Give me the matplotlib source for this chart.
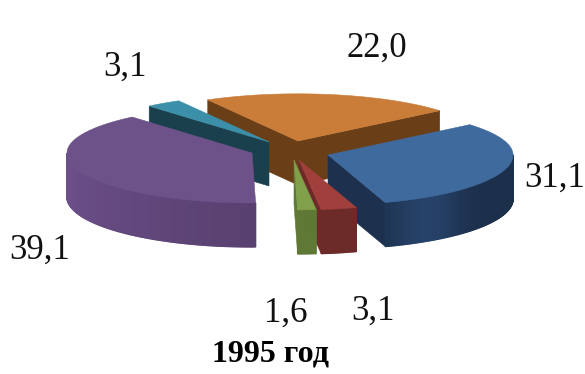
import numpy as np
import matplotlib
matplotlib.use("Agg")
import matplotlib.pyplot as plt
from matplotlib.colors import to_rgb

plt.rcParams['font.family'] = ['Liberation Serif', 'DejaVu Serif']

# data (clockwise from the orange slice)
values = [22.0, 31.1, 3.1, 1.6, 39.1, 3.1]
labels = ["22,0", "31,1", "3,1", "1,6", "39,1", "3,1"]
title = "1995 год"

# styles / layout
top_colors = ["#CA7C39", "#3F6A9E", "#A03F3C", "#80A04A", "#6C5289", "#3C8FA8"]
wall_colors = ["#6A3F18", "#223A5C", "#6C2A28", "#5F7836", "#64497F", "#1B404D"]
apexes = [(298, 141), (328, 155), (299, 160), (294, 160), (252, 153), (269, 142)]
label_pos = [(377, 48), (555, 178), (373, 311), (286, 313), (40, 250), (125, 67)]
draw_order = [0, 5, 4, 1, 2, 3]
start_angle = -119.2
RX, K_FRONT, K_BACK, DEPTH = 185, 0.27, 0.255, 44

fig = plt.figure(figsize=(5.85, 3.74), dpi=100)
ax = fig.add_axes([0, 0, 1, 1])
ax.set_xlim(0, 585)
ax.set_ylim(374, 0)
ax.axis("off")

sweeps = np.array(values) / sum(values) * 360
starts = start_angle + np.concatenate([[0], np.cumsum(sweeps)[:-1]])


def rim(apex, deg):
    t = np.radians(deg)
    s = np.sin(t)
    return apex[0] + RX * np.cos(t), apex[1] + RX * (K_FRONT if s > 0 else K_BACK) * s


def shade(color, f):
    return tuple(min(1, c * f) for c in to_rgb(color))


def face(pts, color, z, lw=0.4):
    ax.fill([p[0] for p in pts], [p[1] for p in pts], facecolor=color,
            edgecolor=color, linewidth=lw, zorder=z)


for z, i in enumerate(draw_order):
    apex, a0, sw = apexes[i], starts[i], sweeps[i]
    a1 = a0 + sw
    base = 10 + z * 10
    wall = wall_colors[i]
    down = lambda p: (p[0], p[1] + DEPTH)
    # cut faces that look towards the viewer
    if np.cos(np.radians(a0)) < 0:
        p = rim(apex, a0)
        face([apex, p, down(p), down(apex)], wall, base)
    if np.cos(np.radians(a1)) > 0:
        p = rim(apex, a1)
        face([apex, p, down(p), down(apex)], shade(wall, 0.85 if i == 1 else 1.0), base)
    # outer wall, in thin strips with a little shading
    n = max(4, int(sw * 2))
    ang = np.linspace(a0, a1, n + 1)
    for u, v in zip(ang[:-1], ang[1:]):
        m = (u + v) / 2
        if np.sin(np.radians(v)) <= 0:
            continue
        f = 1.0
        if i == 1:
            f = 0.82 + 0.32 * np.exp(-((m - 58) / 13) ** 2)
        if i == 4:
            f = 1.08 - 0.2 * np.clip((170 - m) / 80, 0, 1)
        p, q = rim(apex, u), rim(apex, v)
        face([p, q, down(q), down(p)], shade(wall, f), base + 1, lw=1.0)
    # top surface
    ang = np.linspace(a0, a1, max(4, int(sw * 2)) + 1)
    pts = [apex] + [rim(apex, d) for d in ang]
    face(pts, top_colors[i], base + 2)

for lab, (x, y) in zip(labels, label_pos):
    ax.text(x, y, lab, ha="center", va="center", fontsize=25, color="#111111", zorder=100)
ax.text(271, 354, title, ha="center", va="center", fontsize=23, fontweight="bold",
        color="black", zorder=100)

fig.savefig("out.png", dpi=100)
